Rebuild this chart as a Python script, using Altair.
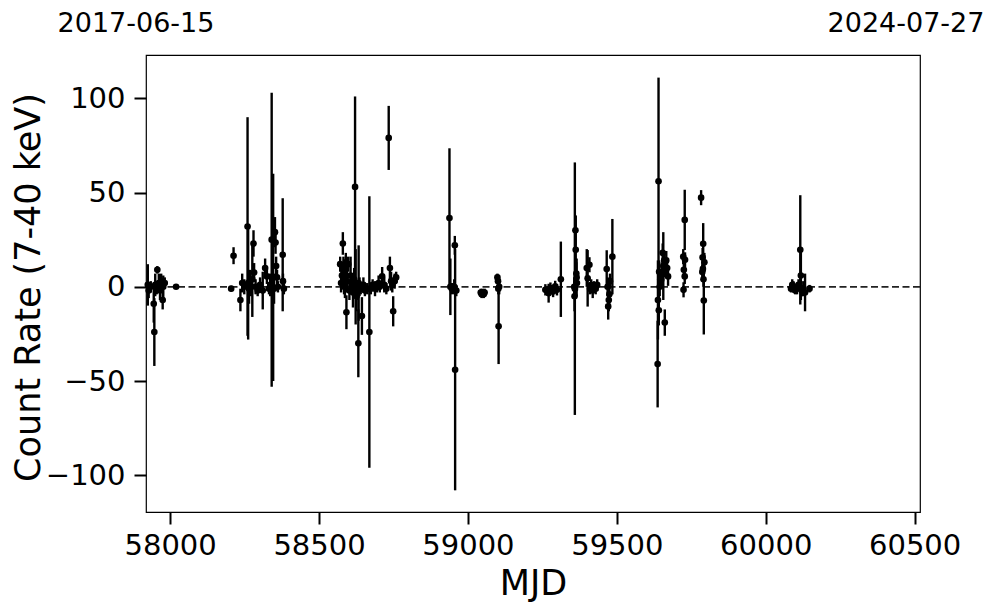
import altair as alt
import pandas as pd

# ---- data ----
mjd = [
    57925, 57928, 57935, 57945, 57947, 57950, 57955, 57957, 57962, 57966, 57970, 57975, 57977, 57982, 58020,
    58205, 58213, 58236, 58242, 58249, 58260, 58262, 58265, 58268, 58272, 58276, 58280, 58282, 58287, 58294,
    58302, 58311, 58319, 58325, 58332, 58336, 58341, 58346, 58349, 58352, 58354, 58356, 58359, 58362, 58378,
    58379, 58382,
    58571, 58574, 58577, 58580, 58582, 58584, 58587, 58590, 58592, 58594, 58598, 58602, 58606, 58610, 58614,
    58618, 58621, 58623, 58626, 58630, 58632, 58633, 58636, 58640, 58644, 58649, 58654, 58662, 58669, 58674,
    58680, 58688, 58694, 58700, 58704, 58712, 58719, 58726, 58734, 58738, 58742, 58746, 58749, 58754, 58759,
    58938, 58941, 58946, 58954, 58956, 58957, 58961, 59043, 59046, 59049, 59053, 59056, 59099, 59101, 59102,
    59103, 59105,
    59260, 59271, 59277, 59286, 59293, 59299, 59312, 59357, 59358, 59359, 59361, 59362, 59364, 59365, 59366,
    59399, 59402, 59408, 59410, 59414, 59419, 59424, 59429, 59434, 59466, 59469, 59471, 59473, 59475, 59477,
    59485,
    59637, 59638, 59640, 59641, 59642, 59644, 59646, 59649, 59651, 59654, 59656, 59659, 59661, 59662, 59666,
    59669, 59672,
    59723, 59724, 59725, 59728, 59728, 59729,
    59783, 59787, 59788, 59789, 59790, 59791, 59792, 59794,
    60085, 60089, 60093, 60099, 60105, 60110, 60116, 60118, 60121, 60126, 60132, 60147,
]
rate = [
    1, -2, 0, -9, -24, 1, -1, 9, 2, -2, 3, -7, 0, 2, 0,
    -1, 16.5, -7, 2, 0, 32, 2, -1, 3, 0, 4, 23, 7.6, 0, -2,
    1, -2, 10, 5.5, -1, 1, 25, 5, -1, 29, 23.5, 11, 5, 0, 17,
    3, -1,
    12, 2, 6, 23, 8, 0, 4, 13, -13.5, 3, 12, -2, 6, 0, -3,
    4, 53, 0, -5, -2, -30, 2, 0, -1, -15.5, 1, -2, -1, -24, -1,
    1, -1, 0, 2, 0, 5.5, 1, -1, 79, 10, 3, 1, -13, 3, 5,
    36.5, 0, -1, 0, 22, -44, -2, -3, -4, -3, -4, -3, 5, 3, -1,
    -21, 0,
    -1.6, -3.4, -0.7, -2.5, 0.2, -1.6, 4, 0, -5, -1, 30, 19.6, 7, 5, 2,
    10, 4.5, 11.7, -1, 1, -2, 0, -1, 1, 9.4, 0, -10.4, -7, -4, 3,
    16,
    -41, -7, 56, -12.5, 8, 0, 4, 3.7, 7, 18, 11, 14, -19, 10, 14,
    10, 5.5,
    16, -1.6, 9, 35.5, 5.5, 14.3,
    47.3, 7.8, 15.6, 9.5, 22.8, 4, -7.3, 13,
    -1, 1, 0, -2, -1, 1, 19.6, 6, -2, -1, -3, -1,
]
err = [
    11, 4, 3, 10, 18, 6, 3, 2, 5, 5, 4, 5, 6, 3, 1,
    1.5, 4.5, 6, 5, 4, 58, 30, 8, 6, 5, 20, 7, 5, 4, 3,
    4, 10, 5, 4, 3, 6, 78, 55, 8, 8, 6, 5, 4, 3, 30,
    4, 3,
    4, 5, 6, 6, 8, 4, 10, 5, 9, 6, 4, 5, 10, 4, 8,
    6, 48, 20, 8, 5, 18, 20, 5, 3, 10, 4, 3, 3, 72, 3,
    3, 4, 3, 4, 3, 5, 4, 3, 17, 6, 5, 4, 8, 4, 3,
    37, 15, 3, 4, 5, 64, 3, 2, 2, 2, 2, 2, 2, 2, 3,
    20, 4,
    3, 5, 3, 3, 3, 3, 20, 5, 8, 67, 8, 18, 6, 10, 4,
    10, 15, 4, 3, 3, 4, 3, 3, 3, 10, 5, 7, 6, 5, 4,
    20,
    23, 21, 55, 8, 6, 5, 5, 4, 6, 5, 18, 5, 7, 5, 5,
    5, 5,
    4, 4, 4, 16, 4, 4,
    4, 4, 5, 4, 11, 4, 18, 5,
    2, 3, 3, 2, 3, 3, 29, 13, 3, 4, 10, 2,
]

x_ticks = [58000, 58500, 59000, 59500, 60000, 60500]
y_ticks = [-100, -50, 0, 50, 100]
x_domain = [57919, 60518]
y_domain = [-119.5, 123]
date_mjd = [57919, 60518]
date_labels = ["2017-06-15", "2024-07-27"]

df = pd.DataFrame({"mjd": mjd, "rate": rate, "err": err})
FONT = "DejaVu Sans"

xs = alt.Scale(domain=x_domain, nice=False, zero=False)
ys = alt.Scale(domain=y_domain, nice=False, zero=False)

x_axis = alt.Axis(values=x_ticks, format="d", title="MJD", grid=False,
                  labelFontSize=29, labelFont=FONT, labelColor="black",
                  tickSize=12, tickWidth=2, tickColor="black", labelPadding=7,
                  domain=False, titleFontSize=35, titleFont=FONT, titleFontWeight="normal",
                  titleColor="black", titleX=387, titleY=71, titleBaseline="middle",
                  titleAlign="center", labelFlush=False)
y_axis = alt.Axis(values=y_ticks, title="Count Rate (7-40 keV)", grid=False,
                  labelFontSize=29, labelFont=FONT, labelColor="black",
                  tickSize=12, tickWidth=2, tickColor="black", labelPadding=9,
                  domain=False, titleFontSize=35, titleFont=FONT, titleFontWeight="normal",
                  titleColor="black", titleX=-118, titleY=232, titleAngle=270,
                  titleBaseline="middle", titleAlign="center", labelFlush=False)

base = alt.Chart(df)

zero = alt.Chart(pd.DataFrame({"z": [0]})).mark_rule(
    color="#222222", strokeDash=[7, 3.5], strokeWidth=1.8
).encode(y=alt.Y("z:Q", scale=ys, axis=y_axis))

bars = base.transform_calculate(
    lo="datum.rate - datum.err", hi="datum.rate + datum.err"
).mark_rule(color="black", strokeWidth=2.4).encode(
    x=alt.X("mjd:Q", scale=xs, axis=x_axis),
    y=alt.Y("lo:Q", scale=ys, axis=y_axis),
    y2="hi:Q",
)

points = base.mark_circle(color="black", size=44, opacity=1).encode(
    x=alt.X("mjd:Q", scale=xs, axis=x_axis),
    y=alt.Y("rate:Q", scale=ys, axis=y_axis),
)

ddf = pd.DataFrame({"mjd": date_mjd, "label": date_labels})
left_date = alt.Chart(ddf.iloc[[0]]).mark_text(
    font=FONT, fontSize=27, color="black", align="center", baseline="middle", dx=-10
).encode(x=alt.X("mjd:Q", scale=xs, axis=x_axis), y=alt.value(-31), text="label:N")
right_date = alt.Chart(ddf.iloc[[1]]).mark_text(
    font=FONT, fontSize=27, color="black", align="center", baseline="middle", dx=-14
).encode(x=alt.X("mjd:Q", scale=xs, axis=x_axis), y=alt.value(-31), text="label:N")

chart = alt.layer(zero, bars, points, left_date, right_date).properties(
    width=774, height=457,
    autosize=alt.AutoSizeParams(type="none"),
    padding={"left": 138, "top": 47, "right": 69, "bottom": 93},
    background="white",
).configure_view(stroke="black", strokeWidth=1.2)

chart.save("out.html", embed_options={"renderer": "svg", "actions": False})
